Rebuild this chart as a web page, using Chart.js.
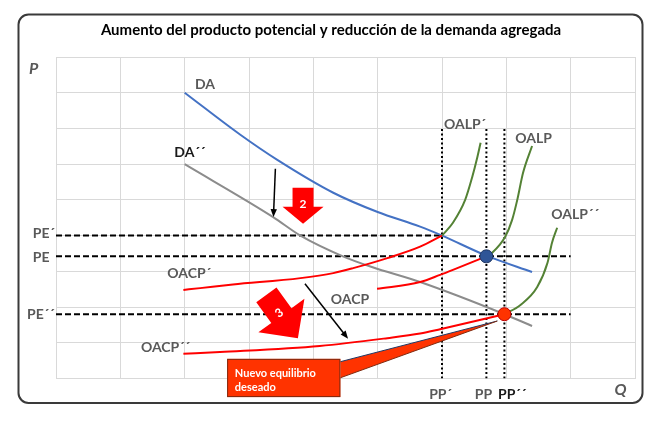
<!DOCTYPE html>
<html><head><meta charset="utf-8">
<script src="https://cdn.jsdelivr.net/npm/chart.js@4.4.1/dist/chart.umd.min.js"></script>
<style>html,body{margin:0;padding:0;background:#fff}#wrap{width:661px;height:422px;position:relative}</style>
</head><body><div id="wrap"><canvas id="c" width="661" height="422"></canvas></div>
<script>
// ---------- data (grid units: 9 columns x 9 rows) ----------
const TITLE = 'Aumento del producto potencial y reducción de la demanda agregada';
const X_TICKS = [0,1,2,3,4,5,6,7,8,9];
const Y_TICKS = [0,1,2,3,4,5,6,7,8,9];

const PE_LEVELS = [4.0, 3.42, 1.8];        // PE´, PE, PE´´
const PE_ENDS   = [6.0, 8.0, 8.0];
const PP_LEVELS = [6.0, 6.69, 6.97];       // PP´, PP, PP´´
const PP_TOP = 7.0;

const DA_X  = [2.0, 2.86, 3.44, 4.31, 5.0, 5.66, 6.0, 6.69, 7.4];
const DA_Y  = [8.0, 6.83, 6.12, 5.2, 4.66, 4.25, 4.0, 3.44, 2.98];
const DA2_X = [2.0, 3.375, 3.8, 4.46, 4.91, 5.66, 6.97, 7.4];
const DA2_Y = [6.0, 4.52, 4.0, 3.42, 3.12, 2.7, 1.8, 1.47];

const OACP1_X = [1.98, 2.24, 2.75, 3.8, 4.31, 4.62, 5.15, 5.66, 6.0];
const OACP1_Y = [2.48, 2.53, 2.63, 2.81, 2.95, 3.09, 3.37, 3.69, 4.0];
const OACP0_X = [4.99, 5.66, 5.97, 6.17, 6.69];
const OACP0_Y = [2.51, 2.70, 2.90, 3.04, 3.42];
const OACP2_X = [1.98, 2.55, 4.1, 5.15, 5.66, 5.97, 6.97];
const OACP2_Y = [0.69, 0.74, 0.91, 1.13, 1.26, 1.38, 1.8];

const OALP1_X = [6.0, 6.17, 6.36, 6.47, 6.55, 6.6];
const OALP1_Y = [4.0, 4.36, 5.0, 5.64, 6.2, 6.6];
const OALP0_X = [6.69, 6.78, 6.98, 7.09, 7.17, 7.26, 7.4];
const OALP0_Y = [3.42, 3.52, 3.96, 4.44, 5.0, 5.76, 6.51];
const OALP2_X = [6.97, 7.22, 7.48, 7.64, 7.71, 7.79];
const OALP2_Y = [1.8, 2.06, 2.56, 3.24, 3.80, 4.22];

const EQ_BLUE = [6.69, 3.42];
const EQ_RED  = [6.97, 1.8];

// ---------- annotation text ----------
const LABELS = [
  {t:'DA',    x:2.16, y:8.22, c:'#595959'},
  {t:'DA´´',  x:1.84, y:6.34, c:'#1a1a1a'},
  {t:'OALP´', x:6.03, y:7.10, c:'#595959'},
  {t:'OALP',  x:7.14, y:6.73, c:'#595959'},
  {t:'OALP´´',x:7.70, y:4.60, c:'#595959'},
  {t:'OACP´', x:1.73, y:2.93, c:'#595959'},
  {t:'OACP',  x:4.27, y:2.20, c:'#595959'},
  {t:'OACP´´',x:1.32, y:0.88, c:'#595959'},
  {t:'PE´',   x:-0.36, y:4.07, c:'#595959'},
  {t:'PE',    x:-0.36, y:3.40, c:'#595959'},
  {t:'PE´´',  x:-0.45, y:1.78, c:'#595959'},
  {t:'PP´',   x:5.80, y:-0.44, c:'#595959'},
  {t:'PP',    x:6.51, y:-0.44, c:'#595959'},
  {t:'PP´´',  x:6.87, y:-0.44, c:'#1a1a1a'},
];

function pts(xs, ys){ return xs.map((x,i)=>({x:x, y:ys[i]})); }

const datasets = [];
datasets.push({data:[{x:EQ_BLUE[0],y:EQ_BLUE[1]}], showLine:false, pointRadius:6.5, pointBackgroundColor:'#2F5597', pointBorderColor:'#203864', pointBorderWidth:1, order:0});
datasets.push({data:[{x:EQ_RED[0],y:EQ_RED[1]}], showLine:false, pointRadius:6.5, pointBackgroundColor:'#FF3300', pointBorderColor:'#C00000', pointBorderWidth:1, order:0});
function curve(xs, ys, color, order){
  return {data:pts(xs,ys), showLine:true, borderColor:color, borderWidth:2, pointRadius:0, cubicInterpolationMode:'monotone', fill:false, order:order};
}
datasets.push(curve(DA_X, DA_Y, '#4472C4', 2));
datasets.push(curve(DA2_X, DA2_Y, '#8C8C8C', 3));
datasets.push(curve(OACP1_X, OACP1_Y, '#FF0000', 1));
datasets.push(curve(OACP0_X, OACP0_Y, '#FF0000', 1));
datasets.push(curve(OACP2_X, OACP2_Y, '#FF0000', 1));
datasets.push(curve(OALP1_X, OALP1_Y, '#548235', 1));
datasets.push(curve(OALP0_X, OALP0_Y, '#548235', 1));
datasets.push(curve(OALP2_X, OALP2_Y, '#548235', 1));
PE_LEVELS.forEach((v,i)=>datasets.push({data:[{x:0,y:v},{x:PE_ENDS[i],y:v}], showLine:true, borderColor:'#000', borderWidth:2, borderDash:[6,3], pointRadius:0, order:5}));
PP_LEVELS.forEach(v=>datasets.push({data:[{x:v,y:0},{x:v,y:PP_TOP}], showLine:true, borderColor:'#000', borderWidth:2, borderDash:[2,2.5], pointRadius:0, order:6}));

function P(chart, x, y){ return [chart.scales.x.getPixelForValue(x), chart.scales.y.getPixelForValue(y)]; }

function thinArrow(ctx, a, b){
  const dx=b[0]-a[0], dy=b[1]-a[1], L=Math.hypot(dx,dy), ux=dx/L, uy=dy/L, nx=-uy, ny=ux;
  const hl=8, hw=3.2;
  ctx.strokeStyle='#000'; ctx.lineWidth=1.5;
  ctx.beginPath(); ctx.moveTo(a[0],a[1]); ctx.lineTo(b[0]-ux*hl*0.8,b[1]-uy*hl*0.8); ctx.stroke();
  ctx.fillStyle='#000'; ctx.beginPath();
  ctx.moveTo(b[0],b[1]); ctx.lineTo(b[0]-ux*hl+nx*hw,b[1]-uy*hl+ny*hw); ctx.lineTo(b[0]-ux*hl-nx*hw,b[1]-uy*hl-ny*hw); ctx.closePath(); ctx.fill();
}
function blockArrow(ctx, t, p, ws, wh, hl, color){
  const dx=p[0]-t[0], dy=p[1]-t[1], L=Math.hypot(dx,dy), ux=dx/L, uy=dy/L, nx=-uy, ny=ux;
  const bx=p[0]-ux*hl, by=p[1]-uy*hl;
  ctx.fillStyle=color; ctx.beginPath();
  ctx.moveTo(t[0]+nx*ws/2, t[1]+ny*ws/2);
  ctx.lineTo(bx+nx*ws/2, by+ny*ws/2);
  ctx.lineTo(bx+nx*wh/2, by+ny*wh/2);
  ctx.lineTo(p[0], p[1]);
  ctx.lineTo(bx-nx*wh/2, by-ny*wh/2);
  ctx.lineTo(bx-nx*ws/2, by-ny*ws/2);
  ctx.lineTo(t[0]-nx*ws/2, t[1]-ny*ws/2);
  ctx.closePath(); ctx.fill();
}

const framePlugin = {
  id:'frame',
  beforeDraw(chart){
    const ctx=chart.ctx; ctx.save();
    ctx.fillStyle='#fff'; ctx.fillRect(0,0,chart.width,chart.height);
    ctx.strokeStyle='#3a3a3a'; ctx.lineWidth=2;
    ctx.beginPath(); ctx.roundRect(18.5,14.5,624,388.5,10); ctx.stroke();
    ctx.fillStyle='#000'; ctx.font='bold 15px Lato'; ctx.textAlign='center'; ctx.textBaseline='middle';
    ctx.fillText(TITLE, 331, 30);
    ctx.restore();
  },
  afterDatasetsDraw(chart){
    const ctx=chart.ctx; ctx.save();
    // black shift arrows
    thinArrow(ctx, P(chart,3.41,5.87), P(chart,3.38,4.52));
    thinArrow(ctx, P(chart,3.87,2.65), P(chart,4.54,1.11));
    // red block arrows
    blockArrow(ctx, P(chart,3.84,5.34), P(chart,3.84,4.33), 21, 41, 17, '#FF0000');
    blockArrow(ctx, P(chart,3.27,2.34), P(chart,3.76,1.13), 25, 57, 28, '#FF0000');
    ctx.fillStyle='#fff'; ctx.font='bold 12px Lato'; ctx.textAlign='center'; ctx.textBaseline='middle';
    let q=P(chart,3.84,4.87); ctx.fillText('2', q[0], q[1]);
    q=P(chart,3.47,1.83); ctx.save(); ctx.translate(q[0],q[1]); ctx.rotate(-37*Math.PI/180); ctx.fillText('3',0,0); ctx.restore();
    // callout
    const w1=P(chart,4.42,0.47), w2=P(chart,6.86,1.61), w3=P(chart,4.42,0.02);
    ctx.fillStyle='#FF3300'; ctx.beginPath(); ctx.moveTo(w1[0],w1[1]); ctx.lineTo(w2[0],w2[1]); ctx.lineTo(w3[0],w3[1]); ctx.closePath(); ctx.fill();
    ctx.strokeStyle='#203864'; ctx.lineWidth=1; ctx.beginPath(); ctx.moveTo(w1[0],w1[1]); ctx.lineTo(w2[0],w2[1]); ctx.stroke();
    ctx.strokeStyle='#7F2A10'; ctx.beginPath(); ctx.moveTo(w3[0],w3[1]); ctx.lineTo(w2[0],w2[1]); ctx.stroke();
    const b1=P(chart,2.66,0.55), b2=P(chart,4.42,-0.52);
    ctx.fillStyle='#FF3300'; ctx.fillRect(b1[0],b1[1],b2[0]-b1[0],b2[1]-b1[1]);
    ctx.strokeStyle='#7F2A10'; ctx.strokeRect(b1[0]+0.5,b1[1]+0.5,b2[0]-b1[0]-1,b2[1]-b1[1]-1);
    ctx.fillStyle='#fff'; ctx.font='bold 11px Lato'; ctx.textAlign='left';
    q=P(chart,2.78,0.15); ctx.fillText('Nuevo equilibrio', q[0], q[1]);
    q=P(chart,2.78,-0.24); ctx.fillText('deseado', q[0], q[1]);
    // labels
    ctx.font='bold 14px Lato'; ctx.textBaseline='middle'; ctx.textAlign='left';
    LABELS.forEach(l=>{ const p=P(chart,l.x,l.y); ctx.fillStyle=l.c; ctx.fillText(l.t,p[0],p[1]); });
    ctx.fillStyle='#595959'; ctx.font='italic bold 16px Lato';
    q=P(chart,-0.42,8.66); ctx.fillText('P', q[0], q[1]);
    q=P(chart,8.68,-0.32); ctx.fillText('Q', q[0], q[1]);
    ctx.restore();
  }
};

new Chart(document.getElementById('c'), {
  type:'scatter',
  data:{datasets:datasets},
  options:{
    responsive:false, animation:false, events:[],
    layout:{padding:{left:56, top:57, right:26, bottom:43.5}},
    plugins:{legend:{display:false}, tooltip:{enabled:false}, title:{display:false}},
    scales:{
      x:{type:'linear', min:X_TICKS[0], max:X_TICKS[X_TICKS.length-1], afterBuildTicks:s=>{s.ticks=X_TICKS.map(v=>({value:v}));},
         ticks:{display:false}, grid:{color:'#D9D9D9', lineWidth:1, drawTicks:false}, border:{color:'#D9D9D9'}},
      y:{type:'linear', min:Y_TICKS[0], max:Y_TICKS[Y_TICKS.length-1], afterBuildTicks:s=>{s.ticks=Y_TICKS.map(v=>({value:v}));},
         ticks:{display:false}, grid:{color:'#D9D9D9', lineWidth:1, drawTicks:false}, border:{color:'#D9D9D9'}}
    }
  },
  plugins:[framePlugin]
});
</script></body></html>
